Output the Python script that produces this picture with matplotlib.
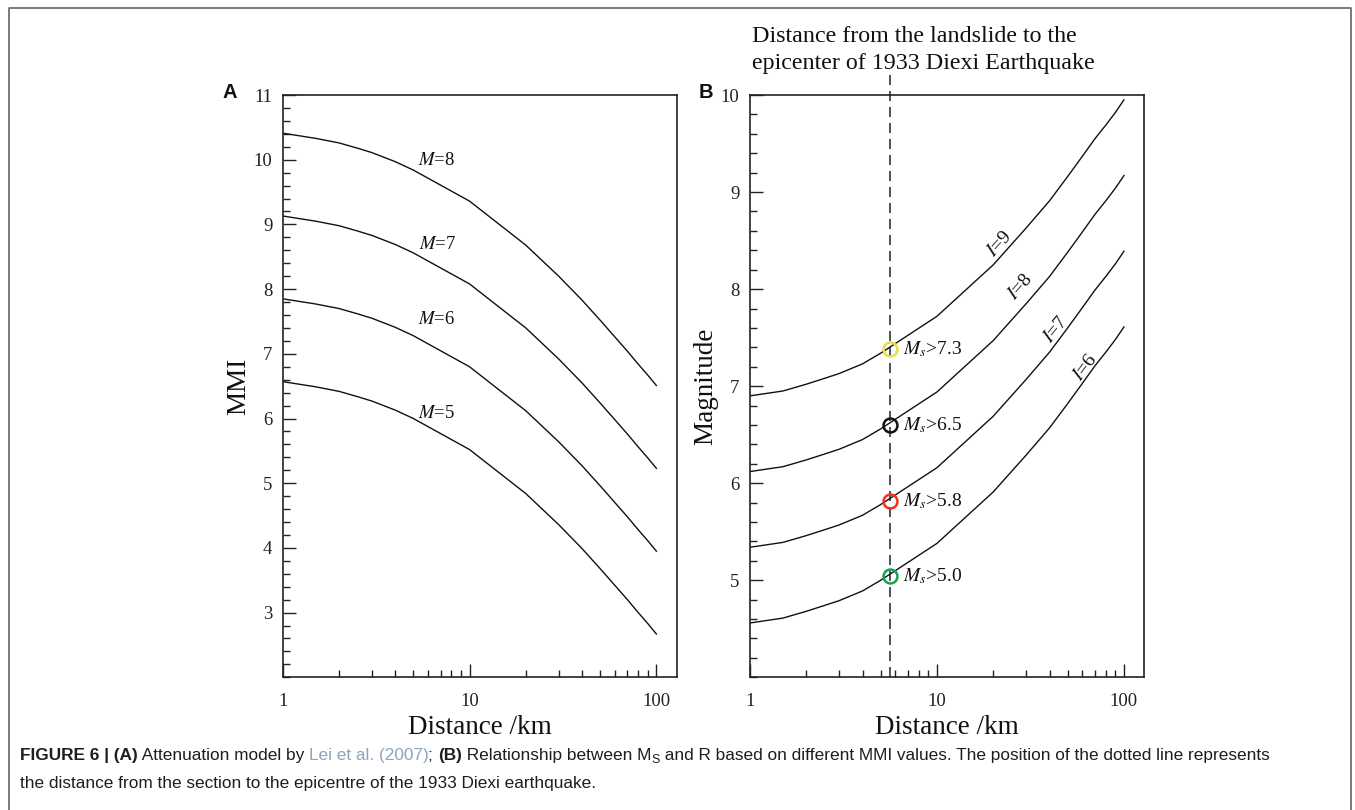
import matplotlib
matplotlib.use('Agg')
import matplotlib.pyplot as plt
from matplotlib.ticker import MultipleLocator, FixedLocator, FixedFormatter, LogLocator, NullFormatter
from matplotlib.transforms import IdentityTransform

# ---------------- data ----------------
distance_km = [1, 1.5, 2, 2.5, 3, 4, 5, 10, 20, 30, 40, 50, 60, 70, 80, 90, 100]

# Panel A: MMI vs distance for different magnitudes
mmi_M8 = [10.41, 10.33, 10.26, 10.18, 10.11, 9.97, 9.84, 9.36, 8.68, 8.20, 7.83, 7.52, 7.26, 7.04, 6.84, 6.67, 6.51]
mmi_M7 = [9.13, 9.05, 8.98, 8.90, 8.83, 8.69, 8.56, 8.08, 7.40, 6.92, 6.55, 6.24, 5.98, 5.76, 5.56, 5.39, 5.23]
mmi_M6 = [7.85, 7.77, 7.70, 7.62, 7.55, 7.41, 7.28, 6.80, 6.12, 5.64, 5.27, 4.96, 4.70, 4.48, 4.28, 4.11, 3.95]
mmi_M5 = [6.57, 6.49, 6.42, 6.34, 6.27, 6.13, 6.00, 5.52, 4.84, 4.36, 3.99, 3.68, 3.42, 3.20, 3.00, 2.83, 2.67]
magnitude_labels = ['8', '7', '6', '5']

# Panel B: magnitude vs distance for different intensities
mag_I9 = [6.90, 6.95, 7.02, 7.08, 7.13, 7.23, 7.34, 7.72, 8.25, 8.63, 8.91, 9.16, 9.37, 9.55, 9.69, 9.82, 9.95]
mag_I8 = [6.12, 6.17, 6.24, 6.30, 6.35, 6.45, 6.56, 6.94, 7.47, 7.85, 8.13, 8.38, 8.59, 8.77, 8.91, 9.04, 9.17]
mag_I7 = [5.34, 5.39, 5.46, 5.52, 5.57, 5.67, 5.78, 6.16, 6.69, 7.07, 7.35, 7.60, 7.81, 7.99, 8.13, 8.26, 8.39]
mag_I6 = [4.56, 4.61, 4.68, 4.74, 4.79, 4.89, 5.00, 5.38, 5.91, 6.29, 6.57, 6.82, 7.03, 7.21, 7.35, 7.48, 7.61]
intensity_labels = ['9', '8', '7', '6']

epicentre_distance_km = 5.62
threshold_mag = [7.38, 6.60, 5.82, 5.04]
threshold_text = ['7.3', '6.5', '5.8', '5.0']
threshold_colors = ['#e8de4c', '#111111', '#f2321c', '#17a050']

# ---------------- figure ----------------
W, H = 1355, 810
fig = plt.figure(figsize=(W / 100, H / 100), dpi=100)
SERIF = 'Liberation Serif'
plt.rcParams['font.family'] = [SERIF, 'DejaVu Serif']

def px_axes(l, t, r, b):
    return fig.add_axes([l / W, 1 - b / H, (r - l) / W, (b - t) / H])

axA = px_axes(282.7, 95, 676.7, 677.3)
axB = px_axes(750, 95, 1144.3, 677.3)

def style_axis(ax, ylim, yticks):
    ax.set_xscale('log')
    ax.set_xlim(1, 128.5)
    ax.set_ylim(*ylim)
    ax.xaxis.set_major_locator(FixedLocator([1, 10, 100]))
    ax.xaxis.set_major_formatter(FixedFormatter(['1', '10', '100']))
    ax.xaxis.set_minor_locator(LogLocator(base=10, subs=[2, 3, 4, 5, 6, 7, 8, 9]))
    ax.xaxis.set_minor_formatter(NullFormatter())
    ax.yaxis.set_major_locator(FixedLocator(yticks))
    ax.yaxis.set_minor_locator(MultipleLocator(0.2))
    ax.tick_params(which='both', direction='in', top=False, right=False,
                   colors='#222222', labelcolor='#222222', width=1.0)
    ax.tick_params(which='major', length=9.5, labelsize=13.5)
    ax.tick_params(axis='x', which='major', pad=11)
    ax.tick_params(axis='y', which='major', pad=7.5)
    ax.tick_params(which='minor', length=5)
    for s in ax.spines.values():
        s.set_linewidth(1.2)
        s.set_color('#222222')

style_axis(axA, (2, 11), list(range(3, 12)))
style_axis(axB, (4, 10), list(range(5, 11)))

line_kw = dict(color='#111111', lw=1.0)

# Panel A curves
for yvals in (mmi_M8, mmi_M7, mmi_M6, mmi_M5):
    axA.plot(distance_km, yvals, **line_kw)
labelA_pos = [(5.3, 9.98), (5.35, 8.69), (5.3, 7.53), (5.3, 6.07)]
for lab, (x, y) in zip(magnitude_labels, labelA_pos):
    axA.text(x, y, r'$M$=' + lab, fontsize=13.5, ha='left', va='center',
             math_fontfamily='stix', color='#111111')

axA.set_xlabel('Distance /km', fontsize=19.5, labelpad=4, color='#111111')
axA.set_ylabel('MMI', fontsize=19.5, labelpad=1.5, color='#111111')

# Panel B curves
for yvals in (mag_I9, mag_I8, mag_I7, mag_I6):
    axB.plot(distance_km, yvals, **line_kw)
labelB_pos = [(21.6, 8.46, 48), (27.9, 8.02, 49), (43.5, 7.58, 51), (62.3, 7.19, 53)]
for lab, (x, y, rot) in zip(intensity_labels, labelB_pos):
    axB.text(x, y, r'$I$=' + lab, fontsize=14, ha='center', va='center',
             rotation=rot, rotation_mode='anchor', math_fontfamily='stix',
             color='#111111')

# dashed line through the epicentre distance (extends above the axes)
axB.plot([epicentre_distance_km, epicentre_distance_km], [4, 10.215],
         color='#333333', lw=1.2, dashes=(6, 3.6), clip_on=False, zorder=1)

for v, t, c in zip(threshold_mag, threshold_text, threshold_colors):
    axB.plot([epicentre_distance_km], [v], 'o', mfc='none', mec=c, ms=10,
             mew=1.8, zorder=5, clip_on=False)
    axB.text(6.6, v, r'$M_{s}$>' + t, fontsize=14, ha='left', va='center',
             math_fontfamily='stix', color='#111111')

axB.set_xlabel('Distance /km', fontsize=19.5, labelpad=4, color='#111111')
axB.set_ylabel('Magnitude', fontsize=19.5, labelpad=1.5, color='#111111')

# text above panel B
fig.text(752 / W, 1 - 41.5 / H, 'Distance from the landslide to the',
         fontsize=17.3, ha='left', va='baseline', color='#111111')
fig.text(752 / W, 1 - 68.5 / H, 'epicenter of 1933 Diexi Earthquake',
         fontsize=17.3, ha='left', va='baseline', color='#111111')

# panel letters
fig.text(230 / W, 1 - 92 / H, 'A', fontsize=14.5, fontweight='bold',
         family='Liberation Sans', ha='center', va='center', color='#111111')
fig.text(706 / W, 1 - 92 / H, 'B', fontsize=14.5, fontweight='bold',
         family='Liberation Sans', ha='center', va='center', color='#111111')

# outer frame (open at bottom)
frame_x = [9 / W, 9 / W, 1351 / W, 1351 / W]
frame_y = [0, 1 - 8 / H, 1 - 8 / H, 0]
fig.add_artist(plt.Line2D(frame_x, frame_y, transform=fig.transFigure,
                          color='#707070', lw=1.3))

# ---------------- caption ----------------
CAP = 'Liberation Sans'
renderer = fig.canvas.get_renderer()
ident = IdentityTransform()
dark = '#1e1e1e'
blue = '#8ea3bd'

def write_pieces(pieces, x0, ybase, size):
    x = x0
    made = []
    for txt, kw in pieces:
        kw = dict(kw)
        dy = kw.pop('dy', 0)
        rel = kw.pop('rel', 1.0)
        t = fig.text(x, H - ybase - dy, txt, transform=ident, family=CAP,
                     fontsize=size * rel, va='baseline', ha='left', **kw)
        made.append(t)
        x += t.get_window_extent(renderer).width
    return x - x0, made

line1 = [
    ('FIGURE 6 | (A)', dict(fontweight='bold', color=dark)),
    (' Attenuation model by ', dict(color=dark)),
    ('Lei et al. (2007)', dict(color=blue)),
    ('; ', dict(color=dark)),
    ('(B)', dict(fontweight='bold', color=dark)),
    (' Relationship between M', dict(color=dark)),
    ('S', dict(color=dark, rel=0.72, dy=3)),
    (' and R based on different MMI values. The position of the dotted line represents',
     dict(color=dark)),
]
base_size = 11.0
width, made = write_pieces(line1, 20, 760, base_size)
for t in made:
    t.remove()
cap_size = base_size * 1245.0 / width
write_pieces(line1, 20, 760, cap_size)
write_pieces([('the distance from the section to the epicentre of the 1933 Diexi earthquake.',
               dict(color=dark))], 20, 788, cap_size)

fig.savefig('out.png', dpi=100)
